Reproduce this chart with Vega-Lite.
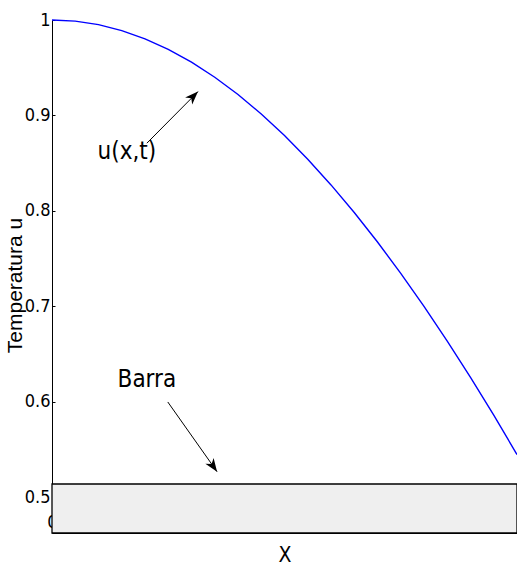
{
  "$schema": "https://vega.github.io/schema/vega-lite/v6.json",
  "width": 465,
  "height": 513,
  "autosize": {"type": "none"},
  "padding": {"left": 52, "top": 20, "right": 0, "bottom": 37},
  "background": "white",
  "config": {
    "view": {"stroke": null},
    "axis": {"grid": false, "domainColor": "black", "tickColor": "black", "labelColor": "black", "titleColor": "black", "labelFont": "DejaVu Sans Condensed, Liberation Sans, sans-serif", "titleFont": "DejaVu Sans Condensed, Liberation Sans, sans-serif", "titleFontWeight": "normal", "zindex": 1}
  },
  "datasets": {
    "curve": [
      {"x": 0, "u": 1},
      {"x": 0.05, "u": 0.9988},
      {"x": 0.1, "u": 0.9951},
      {"x": 0.15, "u": 0.9889},
      {"x": 0.2, "u": 0.9803},
      {"x": 0.25, "u": 0.9693},
      {"x": 0.3, "u": 0.9559},
      {"x": 0.35, "u": 0.9401},
      {"x": 0.4, "u": 0.922},
      {"x": 0.45, "u": 0.9016},
      {"x": 0.5, "u": 0.879},
      {"x": 0.55, "u": 0.8542},
      {"x": 0.6, "u": 0.8273},
      {"x": 0.65, "u": 0.7984},
      {"x": 0.7, "u": 0.7675},
      {"x": 0.75, "u": 0.7347},
      {"x": 0.8, "u": 0.7001},
      {"x": 0.85, "u": 0.6637},
      {"x": 0.9, "u": 0.6257},
      {"x": 0.95, "u": 0.5862},
      {"x": 1, "u": 0.5449}
    ],
    "barra": [{"x": 0, "x2": 1, "y": 0.4628, "y2": 0.5141}],
    "labels": [
      {"x": 0.161, "y": 0.862, "label": "u(x,t)"},
      {"x": 0.204, "y": 0.623, "label": "Barra"}
    ],
    "arrow1": [{"x": 0.204, "y": 0.871, "x2": 0.314, "y2": 0.925}],
    "arrow2": [{"x": 0.249, "y": 0.6, "x2": 0.355, "y2": 0.527}]
  },
  "encoding": {
    "x": {"type": "quantitative", "scale": {"domain": [0, 1], "nice": false, "zero": false}},
    "y": {"type": "quantitative", "scale": {"domain": [0.4628, 1], "nice": false, "zero": false}}
  },
  "layer": [
    {
      "data": {"name": "barra"},
      "mark": {"type": "rect", "fill": "#efefef", "stroke": "black", "strokeWidth": 1.3},
      "encoding": {
        "x": {"field": "x", "type": "quantitative", "scale": {"domain": [0, 1], "nice": false, "zero": false},
          "axis": {"values": [0, 0.1, 0.2, 0.3, 0.4, 0.5, 0.6, 0.7, 0.8, 0.9, 1], "labelExpr": "datum.value == 0 ? '0' : ''", "labelOverlap": false, "labelBound": false, "labelFlush": false, "ticks": false, "labelPadding": -20, "labelFontSize": 18, "title": "X", "titleFontSize": 21, "titleY": 22, "titleBaseline": "middle", "domain": true}},
        "x2": {"field": "x2"},
        "y": {"field": "y", "type": "quantitative", "scale": {"domain": [0.4628, 1], "nice": false, "zero": false},
          "axis": {"values": [0.5, 0.6, 0.7, 0.8, 0.9, 1], "labelExpr": "datum.value == 1 ? '1' : format(datum.value, '.1f')", "labelFlush": false, "tickSize": -3, "labelPadding": 5, "labelFontSize": 18, "title": "Temperatura u", "titleFont": "Liberation Sans, sans-serif", "titleFontSize": 21, "titleAngle": -90, "titleX": -31, "titleY": 265, "titleAlign": "center", "titleBaseline": "alphabetic"}},
        "y2": {"field": "y2"}
      }
    },
    {
      "data": {"name": "curve"},
      "mark": {"type": "line", "color": "#0000ff", "strokeWidth": 1.4},
      "encoding": {
        "x": {"field": "x", "type": "quantitative"},
        "y": {"field": "u", "type": "quantitative"}
      }
    },
    {
      "data": {"name": "labels"},
      "mark": {"type": "text", "font": "DejaVu Sans Condensed, Liberation Sans, sans-serif", "fontSize": 24, "color": "black", "align": "center", "baseline": "middle"},
      "encoding": {
        "x": {"field": "x", "type": "quantitative"},
        "y": {"field": "y", "type": "quantitative"},
        "text": {"field": "label"}
      }
    },
    {
      "data": {"name": "arrow1"},
      "mark": {"type": "rule", "color": "black", "strokeWidth": 1},
      "encoding": {
        "x": {"field": "x", "type": "quantitative"},
        "y": {"field": "y", "type": "quantitative"},
        "x2": {"field": "x2"},
        "y2": {"field": "y2"}
      }
    },
    {
      "data": {"name": "arrow1"},
      "mark": {"type": "point", "shape": "M0,0 L0.38,1 L0,0.72 L-0.38,1 Z", "filled": true, "color": "black", "opacity": 1, "size": 700, "angle": 45},
      "encoding": {
        "x": {"field": "x2", "type": "quantitative"},
        "y": {"field": "y2", "type": "quantitative"}
      }
    },
    {
      "data": {"name": "arrow2"},
      "mark": {"type": "rule", "color": "black", "strokeWidth": 1},
      "encoding": {
        "x": {"field": "x", "type": "quantitative"},
        "y": {"field": "y", "type": "quantitative"},
        "x2": {"field": "x2"},
        "y2": {"field": "y2"}
      }
    },
    {
      "data": {"name": "arrow2"},
      "mark": {"type": "point", "shape": "M0,0 L0.38,1 L0,0.72 L-0.38,1 Z", "filled": true, "color": "black", "opacity": 1, "size": 700, "angle": 145},
      "encoding": {
        "x": {"field": "x2", "type": "quantitative"},
        "y": {"field": "y2", "type": "quantitative"}
      }
    }
  ]
}
